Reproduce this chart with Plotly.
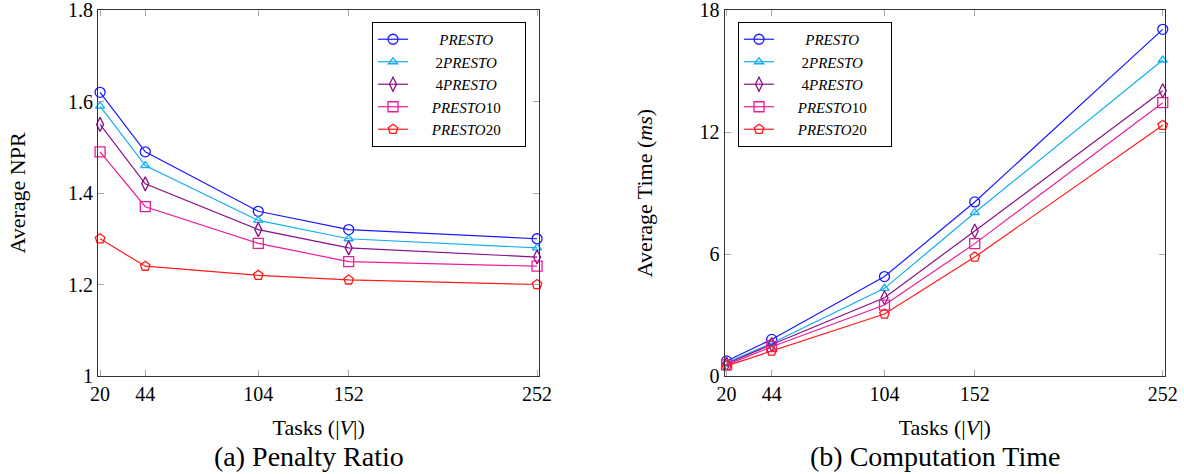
import plotly.graph_objects as go

tasks = [20, 44, 104, 152, 252]
tick_vals = [20, 44, 104, 152, 252]

series_names = ["<i>PRESTO</i>", "2<i>PRESTO</i>", "4<i>PRESTO</i>", "<i>PRESTO</i>10", "<i>PRESTO</i>20"]
pad_counts = [7, 6, 6, 5, 5]

npr_presto = [1.62, 1.49, 1.36, 1.32, 1.30]
npr_2presto = [1.59, 1.46, 1.34, 1.30, 1.28]
npr_4presto = [1.55, 1.42, 1.32, 1.28, 1.26]
npr_presto10 = [1.49, 1.37, 1.29, 1.25, 1.24]
npr_presto20 = [1.30, 1.24, 1.22, 1.21, 1.20]

time_presto = [0.74, 1.80, 4.89, 8.56, 17.05]
time_2presto = [0.66, 1.61, 4.31, 8.03, 15.54]
time_4presto = [0.60, 1.55, 3.85, 7.13, 14.03]
time_presto10 = [0.55, 1.44, 3.49, 6.51, 13.44]
time_presto20 = [0.50, 1.23, 3.05, 5.85, 12.33]

colors = ["#1a1aff", "#12aef0", "#8a108a", "#ec1c96", "#ff1a1a"]
symbols = ["circle-open", "triangle-up-open", "diamond-tall-open", "square-open", "pentagon-open"]
msizes = [10, 8, 10, 10, 10]

npr = [npr_presto, npr_2presto, npr_4presto, npr_presto10, npr_presto20]
times = [time_presto, time_2presto, time_4presto, time_presto10, time_presto20]

FONT = "Liberation Serif"
NB = "\u00a0"


def legend_label(i):
    p = NB * pad_counts[i]
    return p + series_names[i] + p


fig = go.Figure()
for i in range(5):
    fig.add_trace(go.Scatter(
        x=tasks, y=npr[i], name=legend_label(i), mode="lines+markers",
        line=dict(color=colors[i], width=1.2),
        marker=dict(symbol=symbols[i], size=msizes[i], color=colors[i], line=dict(width=1.3)),
        xaxis="x", yaxis="y", legend="legend", cliponaxis=False))
for i in range(5):
    fig.add_trace(go.Scatter(
        x=tasks, y=times[i], name=legend_label(i), mode="lines+markers",
        line=dict(color=colors[i], width=1.2),
        marker=dict(symbol=symbols[i], size=msizes[i], color=colors[i], line=dict(width=1.3)),
        xaxis="x2", yaxis="y2", legend="legend2", cliponaxis=False))

axis_common = dict(
    showline=True, linecolor="#333333", linewidth=1.2, mirror="ticks",
    ticks="inside", tickcolor="#aaaaaa", ticklen=6, tickwidth=1,
    showgrid=False, zeroline=False, automargin=False, ticklabeloverflow="allow",
    tickfont=dict(family=FONT, size=20, color="black"),
)

W = 1184
title_font = dict(family=FONT, size=22)
legend_font = dict(family=FONT, size=15)
fig.update_layout(
    width=W, height=474,
    margin=dict(l=0, r=0, t=10, b=98),
    paper_bgcolor="white", plot_bgcolor="white",
    font=dict(family=FONT, color="black"),
    xaxis=dict(domain=[98 / W, 539.3 / W], range=[18.9, 253.2], tickvals=tick_vals, anchor="y",
               title=dict(text="Tasks (|<i>V</i>|)", font=title_font, standoff=15), **axis_common),
    yaxis=dict(domain=[0, 1], range=[1, 1.8], tickvals=[1, 1.2, 1.4, 1.6, 1.8], anchor="x",
               ticktext=["1", "1.2", "1.4", "1.6", "1.8"],
               title=dict(text="Average NPR", font=title_font, standoff=36), **axis_common),
    xaxis2=dict(domain=[724.5 / W, 1165 / W], range=[18.9, 253.2], tickvals=tick_vals, anchor="y2",
                title=dict(text="Tasks (|<i>V</i>|)", font=title_font, standoff=15), **axis_common),
    yaxis2=dict(domain=[0, 1], range=[0, 18], tickvals=[0, 6, 12, 18], anchor="x2",
                title=dict(text="Average Time (<i>ms</i>)", font=title_font, standoff=40), **axis_common),
    legend=dict(x=372 / W, xanchor="left", y=(376 - 22) / 366, yanchor="top",
                bgcolor="white", bordercolor="black", borderwidth=1,
                font=legend_font, tracegroupgap=0, itemwidth=30),
    legend2=dict(x=738 / W, xanchor="left", y=(376 - 22) / 366, yanchor="top",
                 bgcolor="white", bordercolor="black", borderwidth=1,
                 font=legend_font, tracegroupgap=0, itemwidth=30),
    showlegend=True,
)

fig.add_annotation(text="(a) Penalty Ratio", x=(98 + 539.3) / 2 / W - 0.008, y=-(456 - 376) / 366,
                   xref="paper", yref="paper", showarrow=False, font=dict(family=FONT, size=28),
                   xanchor="center", yanchor="middle")
fig.add_annotation(text="(b) Computation Time", x=(724.5 + 1165) / 2 / W - 0.008, y=-(456 - 376) / 366,
                   xref="paper", yref="paper", showarrow=False, font=dict(family=FONT, size=28),
                   xanchor="center", yanchor="middle")

fig.write_html("out.html")
